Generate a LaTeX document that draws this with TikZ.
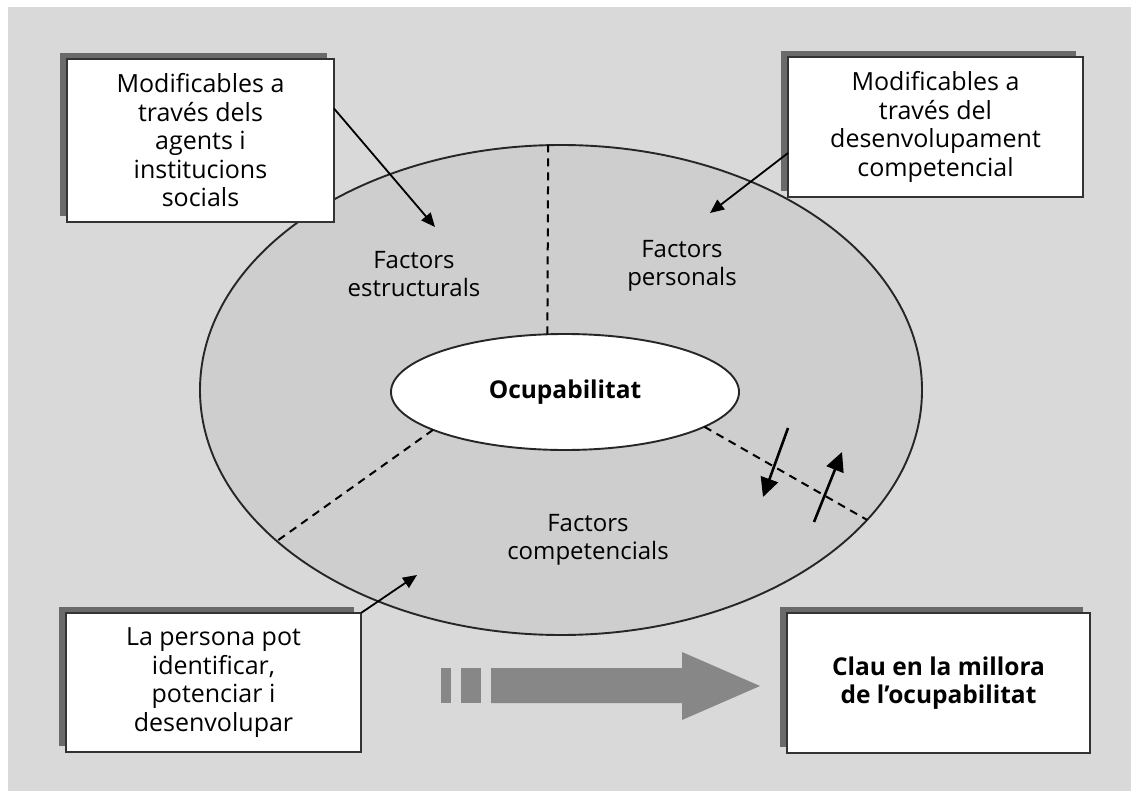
\documentclass[tikz,border=0pt]{standalone}
\usepackage{fontspec}
\setmainfont{Open Sans}
\usetikzlibrary{shapes.geometric,arrows.meta,shadows}
\definecolor{bg}{HTML}{D9D9D9}
\definecolor{ellfill}{HTML}{CECECE}
\definecolor{shadowgray}{HTML}{6A6A6A}
\definecolor{arrowgray}{HTML}{878787}
\definecolor{edge}{HTML}{333333}
\tikzset{
  infobox/.style={rectangle, draw=edge, line width=2pt, fill=white, inner sep=0pt, outer sep=0pt,
    align=center, font=\fontsize{25}{28.5}\selectfont,
    drop shadow={shadow xshift=-7pt, shadow yshift=6pt, fill=shadowgray, opacity=1}},
  ringlabel/.style={align=center, inner sep=0pt, font=\fontsize{24}{28}\selectfont},
  divider/.style={draw=black, line width=2pt, dash pattern=on 8pt off 6pt},
  ptr/.style={draw=black, line width=1.8pt, -{Triangle[length=14pt,width=12pt]}},
  bigptr/.style={draw=black, line width=2.6pt, -{Triangle[length=19pt,width=18pt]}}
}
\begin{document}
\begin{tikzpicture}[x=1pt,y=-1pt]
\useasboundingbox (0,0) rectangle (1131,791);
\fill[white] (0,0) rectangle (1131,791);
\fill[bg] (8,7) rectangle (1131,791);

% ring of factors
\node[ellipse, draw=black!85, line width=1.9pt, fill=ellfill, minimum width=722pt, minimum height=490pt,
      inner sep=0pt, outer sep=0pt] (outer) at (561,390) {};
\node[ellipse, draw=black!85, line width=1.9pt, fill=white, minimum width=348pt, minimum height=116pt,
      inner sep=0pt, outer sep=0pt, font=\bfseries\fontsize{24.5}{28}\selectfont] (occ) at (565,392) {Ocupabilitat};

\draw[divider] (occ.107.3) -- (outer.93.3);
\draw[divider] (occ.196.9) -- (outer.208.9);
\draw[divider] (occ.346.2) -- (outer.337.1);

\node[ringlabel] (fe) at (414,274) {Factors\\estructurals};
\node[ringlabel] (fp) at (682,266) {Factors\\personals};
\node[ringlabel] (fc) at (588,540) {Factors\\competencials};

% boxes
\node[infobox, minimum width=267pt, minimum height=163pt] (b1) at (200.5,140.5)
  {Modificables a\\través dels\\agents i\\institucions\\socials};
\node[infobox, minimum width=295pt, minimum height=140pt] (b2) at (935.5,127)
  {Modificables a\\través del\\desenvolupament\\competencial};
\node[infobox, minimum width=295pt, minimum height=139pt] (b3) at (213.5,682.5)
  {La persona pot\\identificar,\\potenciar i\\desenvolupar};
\node[infobox, minimum width=303pt, minimum height=140pt, font=\bfseries\fontsize{24.5}{28.5}\selectfont] (b4) at (938.5,683)
  {Clau en la millora\\de l’ocupabilitat};

% connectors
\coordinate (t1) at (435,227);
\coordinate (t2) at (710,213);
\coordinate (t3) at (417,575);
\draw[ptr] ([yshift=32pt]b1.east) -- (t1);
\draw[ptr] ([yshift=-26pt]b2.west) -- (t2);
\draw[ptr] (b3.north east) -- (t3);

% exchange arrows
\coordinate (d1) at (788,428); \coordinate (d2) at (763,497);
\coordinate (u1) at (814,522); \coordinate (u2) at (842,452);
\draw[bigptr] (d1) -- (d2);
\draw[bigptr] (u1) -- (u2);

% big gray arrow
\fill[arrowgray] (441,668) rectangle (451,703);
\fill[arrowgray] (461,668) rectangle (481,703);
\fill[arrowgray] (491,668) -- (682,668) -- (682,652) -- (760,686) -- (682,720) -- (682,703) -- (491,703) -- cycle;
\end{tikzpicture}
\end{document}
